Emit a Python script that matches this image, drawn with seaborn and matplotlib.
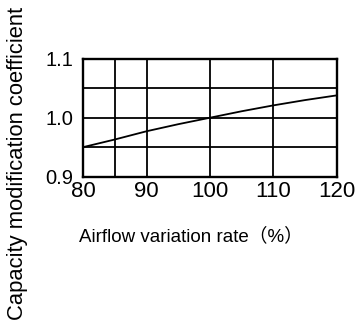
import matplotlib.pyplot as plt
import seaborn as sns

# values
airflow = [80, 85, 90, 95, 100, 105, 110, 115, 120]
coefficient = [0.950, 0.963, 0.977, 0.989, 1.000, 1.011, 1.021, 1.030, 1.038]
x_ticks = [80, 90, 100, 110, 120]
y_ticks = [0.9, 1.0, 1.1]
x_minor = [85]
y_minor = [0.95, 1.05]
x_label = 'Airflow variation rate（%）'
y_label = 'Capacity modification coefficient'

sns.set_style('white')
plt.rcParams['font.family'] = ['Liberation Sans', 'Noto Sans CJK SC']
plt.rcParams['text.color'] = 'black'
plt.rcParams['xtick.color'] = 'black'
plt.rcParams['ytick.color'] = 'black'

fig = plt.figure(figsize=(3.55, 3.27), dpi=100)
ax = fig.add_axes([0.234, 0.46, 0.715, 0.36])

sns.lineplot(x=airflow, y=coefficient, ax=ax, color='black', linewidth=1.3)

ax.set_xlim(80, 120)
ax.set_ylim(0.9, 1.1)
ax.set_xticks(x_ticks)
ax.set_xticklabels([str(t) for t in x_ticks])
ax.set_yticks(y_ticks)
ax.set_yticklabels([f'{t:.1f}' for t in y_ticks])
ax.set_xticks(x_minor, minor=True)
ax.set_yticks(y_minor, minor=True)
ax.grid(which='both', color='black', linewidth=1.3)
ax.tick_params(axis='both', which='both', length=0, colors='black')
ax.tick_params(axis='x', labelsize=16, pad=3)
ax.tick_params(axis='y', labelsize=14.5, pad=7)
for s in ax.spines.values():
    s.set_color('black')
    s.set_linewidth(1.7)

fig.text(0.05, 0.5, y_label, rotation=90, ha='center', va='center',
         fontsize=15.8, color='black')
fig.text(190.5 / 355, 1 - 236 / 327, x_label, ha='center', va='center',
         fontsize=13.5, color='black')

fig.savefig('out.png', dpi=100)
